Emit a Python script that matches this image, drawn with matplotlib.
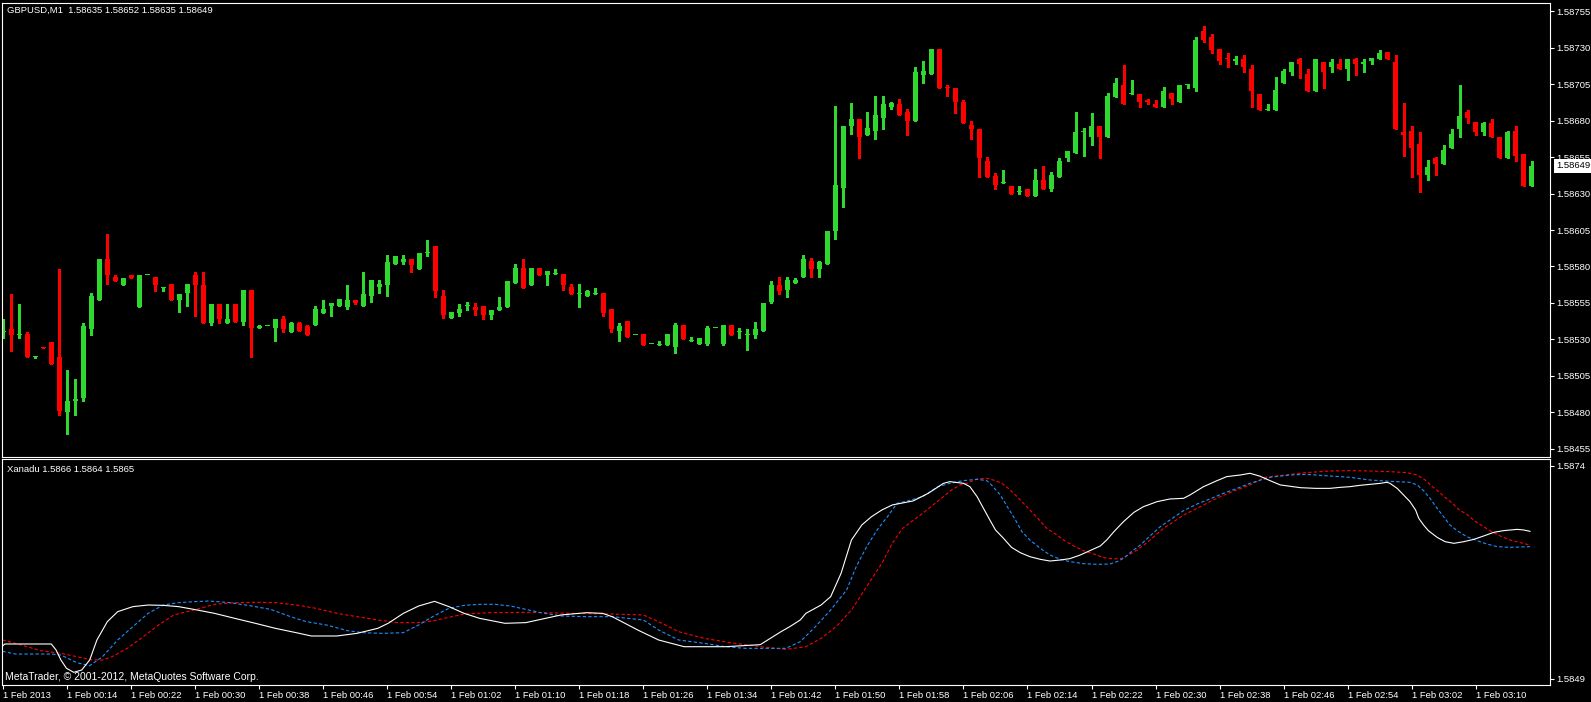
import numpy as np
import matplotlib
matplotlib.use('Agg')
import matplotlib.pyplot as plt

plt.rcParams['font.family'] = ['Liberation Sans', 'DejaVu Sans']

symbol_title = 'GBPUSD,M1  1.58635 1.58652 1.58635 1.58649'
ind_title = 'Xanadu 1.5866 1.5864 1.5865'
credit = 'MetaTrader, \u00a9 2001-2012, MetaQuotes Software Corp.'

# M1 bars, prices in points (price * 1e5), bar 0 = 1 Feb 00:06
opens = [
    158535, 158537, 158533, 158534, 158518, 158525, 158528, 158518, 158480, 158488,
    158490, 158537, 158557, 158585, 158573, 158567, 158574, 158552, 158574, 158573,
    158565, 158568, 158557, 158562, 158574, 158567, 158541, 158554, 158541, 158554,
    158542, 158564, 158538, 158539, 158538, 158544, 158535, 158541, 158539, 158540,
    158548, 158553, 158553, 158552, 158557, 158553, 158560, 158566, 158567, 158582,
    158583, 158585, 158578, 158589, 158594, 158560, 158545, 158548, 158553, 158552,
    158553, 158547, 158550, 158552, 158569, 158579, 158567, 158579, 158574, 158575,
    158575, 158566, 158561, 158560, 158561, 158562, 158551, 158536, 158543, 158533,
    158534, 158527, 158526, 158526, 158525, 158540, 158529, 158527, 158527, 158538,
    158527, 158540, 158535, 158533, 158533, 158536, 158556, 158567, 158564, 158569,
    158573, 158584, 158578, 158582, 158604, 158634, 158676, 158681, 158670, 158673,
    158682, 158689, 158691, 158686, 158680, 158711, 158712, 158729, 158703, 158702,
    158693, 158677, 158674, 158652, 158642, 158637, 158635, 158631, 158633, 158628,
    158639, 158633, 158641, 158654, 158658, 158672, 158669, 158676, 158669, 158696,
    158704, 158698, 158698, 158694, 158691, 158689, 158699, 158693, 158704, 158702,
    158741, 158737, 158729, 158723, 158721, 158722, 158715, 158698, 158687, 158687,
    158706, 158713, 158722, 158712, 158700, 158720, 158717, 158719, 158715, 158722,
    158719, 158721, 158722, 158727, 158720, 158672, 158673, 158664, 158643, 158654,
    158650, 158661, 158674, 158686, 158679, 158672, 158678, 158669, 158654, 158673,
    158657, 158635]
highs = [
    158544, 158561, 158554, 158535, 158519, 158525, 158528, 158578, 158509, 158503,
    158541, 158562, 158585, 158602, 158574, 158572, 158574, 158574, 158574, 158573,
    158565, 158568, 158561, 158568, 158576, 158576, 158554, 158554, 158554, 158554,
    158564, 158564, 158540, 158539, 158544, 158546, 158542, 158542, 158540, 158553,
    158557, 158555, 158558, 158567, 158557, 158576, 158571, 158571, 158588, 158587,
    158588, 158585, 158589, 158598, 158594, 158564, 158549, 158554, 158556, 158555,
    158553, 158550, 158559, 158570, 158582, 158585, 158579, 158579, 158577, 158578,
    158575, 158568, 158568, 158564, 158565, 158562, 158551, 158541, 158543, 158533,
    158534, 158527, 158529, 158534, 158541, 158540, 158532, 158531, 158539, 158538,
    158540, 158540, 158538, 158537, 158542, 158555, 158570, 158573, 158573, 158572,
    158588, 158586, 158584, 158604, 158690, 158676, 158692, 158681, 158686, 158697,
    158697, 158693, 158695, 158688, 158717, 158721, 158729, 158729, 158704, 158702,
    158694, 158680, 158674, 158655, 158644, 158646, 158635, 158635, 158633, 158647,
    158649, 158645, 158654, 158659, 158686, 158675, 158685, 158676, 158699, 158709,
    158718, 158708, 158698, 158695, 158694, 158703, 158699, 158704, 158705, 158737,
    158745, 158739, 158729, 158726, 158724, 158725, 158718, 158698, 158691, 158710,
    158715, 158720, 158723, 158715, 158722, 158720, 158722, 158722, 158722, 158723,
    158722, 158723, 158728, 158727, 158725, 158692, 158676, 158672, 158653, 158655,
    158663, 158674, 158704, 158687, 158679, 158679, 158681, 158669, 158673, 158676,
    158657, 158652]
lows = [
    158531, 158522, 158531, 158518, 158517, 158524, 158513, 158478, 158465, 158478,
    158488, 158533, 158557, 158568, 158570, 158567, 158572, 158552, 158574, 158563,
    158563, 158557, 158549, 158553, 158546, 158541, 158540, 158541, 158541, 158542,
    158540, 158518, 158538, 158539, 158529, 158535, 158535, 158536, 158533, 158540,
    158548, 158546, 158553, 158551, 158554, 158553, 158556, 158562, 158560, 158582,
    158582, 158576, 158578, 158587, 158559, 158545, 158545, 158546, 158550, 158547,
    158544, 158544, 158550, 158552, 158569, 158565, 158567, 158574, 158567, 158575,
    158564, 158561, 158552, 158560, 158561, 158546, 158535, 158529, 158532, 158533,
    158526, 158527, 158526, 158526, 158521, 158530, 158529, 158527, 158526, 158538,
    158526, 158533, 158531, 158523, 158531, 158536, 158555, 158561, 158559, 158569,
    158573, 158573, 158573, 158582, 158599, 158621, 158671, 158654, 158670, 158667,
    158674, 158688, 158684, 158670, 158680, 158706, 158712, 158702, 158697, 158685,
    158678, 158667, 158641, 158641, 158633, 158637, 158630, 158630, 158628, 158628,
    158633, 158632, 158641, 158652, 158658, 158656, 158663, 158654, 158669, 158696,
    158691, 158698, 158689, 158691, 158689, 158689, 158691, 158693, 158702, 158700,
    158734, 158726, 158719, 158717, 158719, 158713, 158689, 158687, 158687, 158687,
    158706, 158711, 158709, 158700, 158700, 158702, 158713, 158715, 158708, 158711,
    158713, 158719, 158722, 158722, 158674, 158656, 158641, 158631, 158639, 158643,
    158650, 158661, 158669, 158678, 158670, 158670, 158669, 158654, 158654, 158652,
    158635, 158635]
closes = [
    158536, 158533, 158534, 158518, 158519, 158524, 158513, 158481, 158488, 158489,
    158539, 158560, 158585, 158574, 158570, 158572, 158572, 158574, 158574, 158567,
    158565, 158557, 158561, 158568, 158567, 158541, 158554, 158544, 158544, 158542,
    158564, 158538, 158539, 158539, 158544, 158537, 158541, 158536, 158533, 158551,
    158551, 158555, 158558, 158557, 158555, 158561, 158571, 158568, 158583, 158587,
    158585, 158581, 158589, 158589, 158563, 158547, 158549, 158551, 158553, 158550,
    158547, 158550, 158552, 158570, 158579, 158565, 158579, 158574, 158577, 158575,
    158567, 158561, 158561, 158563, 158562, 158548, 158537, 158539, 158532, 158533,
    158526, 158527, 158527, 158534, 158540, 158530, 158529, 158531, 158538, 158538,
    158540, 158533, 158535, 158533, 158537, 158555, 158567, 158563, 158571, 158571,
    158585, 158578, 158583, 158604, 158636, 158676, 158681, 158669, 158675, 158684,
    158691, 158692, 158684, 158680, 158713, 158714, 158729, 158702, 158702, 158693,
    158678, 158674, 158654, 158641, 158636, 158637, 158630, 158631, 158628, 158639,
    158633, 158643, 158652, 158659, 158672, 158672, 158676, 158669, 158697, 158706,
    158691, 158698, 158693, 158693, 158689, 158700, 158695, 158704, 158705, 158735,
    158735, 158728, 158721, 158722, 158722, 158717, 158700, 158687, 158688, 158701,
    158714, 158720, 158719, 158700, 158722, 158713, 158720, 158715, 158722, 158719,
    158720, 158723, 158726, 158722, 158674, 158670, 158661, 158643, 158648, 158650,
    158660, 158671, 158683, 158682, 158672, 158678, 158669, 158654, 158672, 158656,
    158635, 158649]

# Xanadu lines, read as (bar position, points)
white_pts = [
    (-0.1, 58528.4), (0.2, 58530.8), (6.0, 58530.8), (6.6, 58523.7), (7.2, 58512.0),
    (7.9, 58502.2), (8.8, 58497.5), (9.8, 58500.2), (10.8, 58512.0), (11.7, 58535.5),
    (13.0, 58557.0), (14.3, 58568.8), (16.2, 58574.7), (18.1, 58576.6), (20.0, 58576.2),
    (21.9, 58574.7), (23.8, 58571.5), (26.4, 58566.8), (28.9, 58561.0), (31.5, 58555.1),
    (34.0, 58549.2), (36.6, 58544.1), (38.5, 58540.2), (41.7, 58540.2), (44.2, 58543.3),
    (46.8, 58549.2), (48.1, 58555.1), (50.0, 58566.8), (51.9, 58575.4), (53.9, 58580.9),
    (55.7, 58574.7), (57.6, 58566.8), (59.5, 58561.0), (62.7, 58555.1), (65.3, 58555.9),
    (67.8, 58561.0), (69.7, 58564.9), (72.9, 58567.6), (74.9, 58566.8), (76.1, 58562.9),
    (79.3, 58547.2), (81.9, 58535.5), (85.1, 58527.6), (90.2, 58527.6), (94.6, 58530.0),
    (97.2, 58545.3), (98.3, 58551.2), (99.6, 58559.0), (100.3, 58566.8), (102.2, 58576.6),
    (103.4, 58586.4), (104.7, 58613.8), (106.0, 58653.0), (107.3, 58670.7), (108.5, 58680.4),
    (109.8, 58688.3), (111.1, 58694.2), (113.7, 58698.9), (115.6, 58707.9), (117.5, 58719.6),
    (118.3, 58721.6), (120.0, 58719.6), (120.8, 58715.7), (121.7, 58704.0), (122.5, 58690.2),
    (123.3, 58676.5), (124.0, 58664.8), (125.0, 58655.0), (126.0, 58644.4), (127.1, 58638.1),
    (128.3, 58633.4), (129.6, 58630.3), (130.8, 58628.3), (132.1, 58629.5), (133.3, 58631.1),
    (134.6, 58635.4), (135.8, 58640.5), (137.1, 58646.0), (137.9, 58653.0), (138.8, 58662.8),
    (140.0, 58674.6), (141.3, 58685.5), (142.5, 58692.2), (144.2, 58698.1), (145.8, 58701.2),
    (147.5, 58702.0), (148.3, 58705.9), (150.0, 58715.7), (151.7, 58722.8), (152.9, 58727.5),
    (154.6, 58729.4), (155.8, 58731.4), (157.0, 58728.2), (158.3, 58722.8), (159.6, 58717.7),
    (162.1, 58714.5), (164.0, 58713.7), (165.8, 58713.7), (167.1, 58714.9), (168.3, 58715.7),
    (169.6, 58717.3), (170.8, 58718.4), (172.1, 58719.6), (172.9, 58720.8), (173.3, 58719.6),
    (174.2, 58713.7), (175.0, 58705.9), (175.8, 58698.1), (176.5, 58688.3), (176.9, 58678.5),
    (177.5, 58670.6), (178.1, 58664.0), (179.2, 58656.1), (180.2, 58651.0), (181.3, 58649.1),
    (182.5, 58651.0), (183.8, 58653.8), (185.0, 58657.7), (186.3, 58662.1), (187.5, 58664.0),
    (189.2, 58665.5), (190.0, 58664.8), (190.8, 58663.2)]
blue_pts = [
    (-0.1, 58522.2), (1.5, 58519.0), (6.0, 58519.0), (7.2, 58517.8), (9.2, 58508.8),
    (10.8, 58505.3), (12.4, 58515.9), (14.3, 58535.5), (16.2, 58551.2), (18.1, 58566.8),
    (20.0, 58576.6), (21.9, 58579.4), (23.8, 58580.5), (25.7, 58581.3), (28.3, 58579.4),
    (30.8, 58575.8), (33.4, 58571.5), (35.9, 58562.9), (37.9, 58557.0), (40.4, 58553.1),
    (43.0, 58546.5), (44.9, 58544.1), (47.4, 58543.3), (50.0, 58544.1), (51.9, 58553.1),
    (53.8, 58563.7), (55.7, 58572.7), (57.6, 58576.2), (59.5, 58577.4), (61.5, 58577.4),
    (63.4, 58575.4), (65.3, 58571.5), (67.2, 58567.6), (69.7, 58563.7), (72.9, 58562.9),
    (76.1, 58562.9), (80.0, 58559.0), (81.9, 58547.2), (84.4, 58535.5), (87.6, 58531.6),
    (90.2, 58527.6), (92.7, 58525.7), (97.8, 58525.7), (99.6, 58533.5), (101.5, 58551.2),
    (103.4, 58570.7), (105.4, 58594.3), (106.6, 58621.7), (107.9, 58645.2), (109.2, 58664.8),
    (110.5, 58680.4), (111.7, 58696.1), (113.0, 58698.9), (114.9, 58704.0), (116.8, 58715.7),
    (118.3, 58719.6), (120.0, 58722.8), (121.7, 58724.3), (122.9, 58722.8), (123.5, 58717.7),
    (124.6, 58705.9), (125.6, 58690.2), (126.5, 58676.5), (127.3, 58662.8), (128.3, 58653.0),
    (129.6, 58643.2), (130.8, 58635.4), (132.1, 58630.3), (133.3, 58627.6), (135.0, 58625.2),
    (136.7, 58624.4), (138.3, 58624.8), (139.2, 58627.6), (140.0, 58631.5), (141.0, 58639.3),
    (142.1, 58647.1), (143.3, 58657.7), (144.6, 58668.7), (145.8, 58676.5), (147.5, 58687.5),
    (149.2, 58695.3), (150.8, 58701.2), (152.5, 58707.9), (154.2, 58713.7), (155.8, 58719.6),
    (158.3, 58726.7), (160.8, 58729.4), (162.8, 58730.2), (165.8, 58728.2), (168.3, 58726.7),
    (170.8, 58723.5), (173.3, 58722.0), (175.8, 58720.8), (176.7, 58717.7), (177.5, 58711.0),
    (178.3, 58702.0), (179.2, 58690.2), (180.0, 58680.4), (180.8, 58670.6), (181.7, 58664.0),
    (182.9, 58656.9), (184.2, 58652.2), (185.4, 58648.3), (186.7, 58645.2), (188.3, 58644.4),
    (190.8, 58645.2)]
red_pts = [
    (-0.1, 58535.5), (1.5, 58531.6), (4.7, 58522.9), (7.2, 58519.8), (9.2, 58515.9),
    (11.1, 58512.0), (12.4, 58512.0), (13.6, 58515.9), (15.5, 58525.7), (17.5, 58539.4),
    (19.4, 58553.1), (21.3, 58564.9), (23.8, 58570.7), (26.4, 58577.4), (28.9, 58579.4),
    (31.5, 58579.8), (34.0, 58579.4), (36.6, 58576.6), (39.1, 58572.7), (41.7, 58566.8),
    (44.2, 58562.9), (46.8, 58559.0), (49.3, 58555.9), (51.9, 58555.9), (53.8, 58558.2),
    (55.7, 58562.1), (57.6, 58566.0), (60.8, 58567.6), (65.9, 58568.0), (71.0, 58566.8),
    (76.1, 58566.0), (80.0, 58564.9), (81.9, 58557.0), (84.4, 58545.3), (87.6, 58537.4),
    (91.4, 58531.6), (95.3, 58526.9), (97.8, 58524.5), (100.3, 58527.6), (102.2, 58537.4),
    (104.1, 58551.2), (106.0, 58570.7), (107.9, 58598.2), (109.8, 58625.6), (111.1, 58649.1),
    (112.4, 58666.7), (114.9, 58684.4), (117.5, 58704.0), (118.5, 58711.8), (119.6, 58717.7),
    (120.4, 58719.6), (121.7, 58724.7), (122.9, 58725.5), (124.0, 58722.8), (124.8, 58719.6),
    (125.6, 58713.7), (126.5, 58705.9), (127.3, 58698.1), (128.3, 58688.3), (129.4, 58677.3),
    (130.4, 58666.7), (131.5, 58660.1), (132.5, 58653.0), (133.8, 58645.9), (135.0, 58640.5),
    (136.3, 58636.5), (137.5, 58632.3), (138.8, 58630.7), (139.8, 58631.5), (140.8, 58636.2),
    (141.7, 58641.3), (142.7, 58648.3), (143.8, 58656.9), (145.0, 58666.7), (146.3, 58674.6),
    (147.5, 58682.4), (149.2, 58690.2), (150.8, 58698.1), (152.1, 58704.0), (153.8, 58710.6),
    (155.0, 58714.9), (155.8, 58717.7), (157.7, 58726.7), (160.2, 58729.4), (162.8, 58732.2),
    (165.8, 58734.1), (168.3, 58734.5), (170.8, 58734.1), (173.3, 58733.3), (175.4, 58732.2),
    (176.7, 58729.4), (177.7, 58723.5), (178.5, 58716.5), (179.4, 58709.8), (180.2, 58703.1),
    (181.1, 58696.1), (181.9, 58689.0), (183.0, 58682.4), (184.0, 58674.6), (185.0, 58668.7),
    (186.0, 58662.8), (187.1, 58657.7), (188.3, 58653.0), (189.6, 58649.9), (190.8, 58647.1)]

price_ticks = [1.58455, 1.58480, 1.58505, 1.58530, 1.58555, 1.58580, 1.58605,
               1.58630, 1.58655, 1.58680, 1.58705, 1.58730, 1.58755]
ind_ticks = [1.5849, 1.5874]
time_labels = ['1 Feb 2013', '1 Feb 00:14', '1 Feb 00:22', '1 Feb 00:30', '1 Feb 00:38',
               '1 Feb 00:46', '1 Feb 00:54', '1 Feb 01:02', '1 Feb 01:10', '1 Feb 01:18',
               '1 Feb 01:26', '1 Feb 01:34', '1 Feb 01:42', '1 Feb 01:50', '1 Feb 01:58',
               '1 Feb 02:06', '1 Feb 02:14', '1 Feb 02:22', '1 Feb 02:30', '1 Feb 02:38',
               '1 Feb 02:46', '1 Feb 02:54', '1 Feb 03:02', '1 Feb 03:10']

BULL = '#2ed82e'
BEAR = '#ff0000'
FS = 6.8

W, H = 1591, 702
fig = plt.figure(figsize=(W / 100, H / 100), dpi=100, facecolor='black')


def box(x0, y0, x1, y1):
    # pixel box (top-left origin) -> figure fraction
    return [x0 / W, 1 - y1 / H, (x1 - x0) / W, (y1 - y0) / H]


ax = fig.add_axes(box(2, 3, 1550, 457))
ax2 = fig.add_axes(box(2, 459, 1550, 685))

for a in (ax, ax2):
    a.set_facecolor('black')
    a.set_xlim(-0.16, 193.3)
    for s in a.spines.values():
        s.set_color('white')
        s.set_linewidth(0.8)
    a.yaxis.tick_right()
    a.tick_params(axis='y', colors='white', direction='out', length=3,
                  width=0.8, pad=1.5, labelsize=FS)

## candles
o = np.array(opens) / 1e5
h = np.array(highs) / 1e5
l = np.array(lows) / 1e5
c = np.array(closes) / 1e5
idx = np.arange(len(o))
cols = np.where(c >= o, BULL, BEAR)

ylo, yhi = 1.584495, 1.587605
one_px = (yhi - ylo) / 454
ax.vlines(idx, l, h, colors=cols, lw=0.8, antialiased=False)
ax.bar(idx, np.maximum(np.abs(c - o), one_px), bottom=np.minimum(o, c),
       width=0.625, color=cols, lw=0, antialiased=False)

ax.set_ylim(ylo, yhi)
ax.set_xticks([])
ax.set_yticks(price_ticks)
ax.set_yticklabels(['%.5f' % p for p in price_ticks])

ax.annotate('%.5f' % c[-1], xy=(1, c[-1]), xycoords=('axes fraction', 'data'),
            xytext=(4.5, 0), textcoords='offset points', ha='left', va='center',
            fontsize=FS, color='black', annotation_clip=False, zorder=10,
            bbox=dict(boxstyle='square,pad=0.25', fc='white', ec='none'))

## indicator window
for pts, col, ls in [(red_pts, BEAR, (0, (3, 2))),
                     (blue_pts, '#1e90ff', (0, (3, 2))),
                     (white_pts, 'white', '-')]:
    xs, vs = zip(*pts)
    ax2.plot(xs, (np.array(vs) + 100000) / 1e5, color=col, lw=0.8, linestyle=ls)

ax2.set_ylim(1.584826, 1.587482)
ax2.set_yticks(ind_ticks)
ax2.set_yticklabels(['%.4f' % v for v in ind_ticks])
ax2.set_xticks(np.arange(len(time_labels)) * 8)
ax2.set_xticklabels(time_labels, ha='left')
ax2.tick_params(axis='x', colors='white', direction='out', length=3,
                width=0.8, pad=1, labelsize=FS)

fig.text(7 / W, 1 - 10.5 / H, symbol_title, color='white', fontsize=FS,
         ha='left', va='center')
fig.text(7 / W, 1 - 469.5 / H, ind_title, color='white', fontsize=FS,
         ha='left', va='center')
fig.text(5 / W, 1 - 677 / H, credit, color='white', fontsize=7.5,
         ha='left', va='center')

fig.savefig('out.png', dpi=100, facecolor='black')
